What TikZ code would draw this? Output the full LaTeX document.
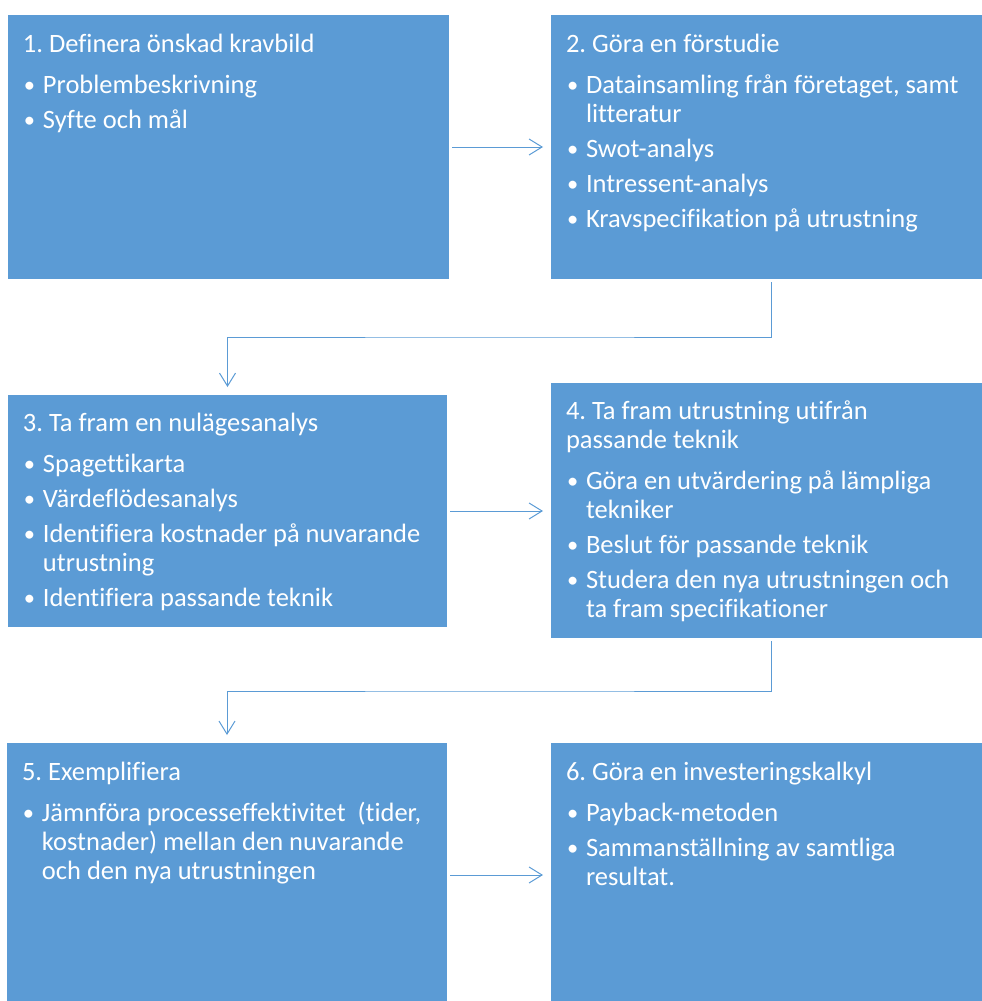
\documentclass[tikz,border=0pt]{standalone}
\usepackage{fontspec}
\setmainfont{Carlito}[Ligatures=NoCommon]
\usetikzlibrary{arrows.meta,calc}
\definecolor{boxblue}{HTML}{5B9BD5}
\tikzset{
 box/.style={fill=boxblue, draw=none, anchor=north west, inner sep=0pt, outer sep=0pt},
 txt/.style={anchor=north west, inner sep=0pt, outer sep=0pt, text=white, font=\fontsize{26.5}{29}\selectfont, align=left},
 conn/.style={draw=boxblue, line width=1pt, -{Straight Barb[length=13pt,width=16pt]}, shorten <=3pt, shorten >=8pt},
}
\newcommand{\bul}{\makebox[20pt][l]{\hspace{1pt}\raisebox{0.5pt}{\scalebox{0.85}{•}}}}
\newcommand{\ind}{\hspace*{20pt}}
\newcommand{\topstrut}{\rule{0pt}{24pt}}
\frenchspacing
\begin{document}
\begin{tikzpicture}[x=1pt,y=-1pt]
\useasboundingbox (0,0) rectangle (982,1001);
\clip (0,0) rectangle (982,1001);
\node[box, minimum width=441pt, minimum height=264pt] (b1) at (8,15) {};
\node[box, minimum width=440pt, minimum height=264pt] (b2) at (551,15) {};
\node[box, minimum width=439pt, minimum height=232pt] (b3) at (8,395) {};
\node[box, minimum width=440pt, minimum height=255pt] (b4) at (551,383) {};
\node[box, minimum width=440pt, minimum height=264pt] (b5) at (7,743) {};
\node[box, minimum width=440pt, minimum height=264pt] (b6) at (551,743) {};
\node[txt] (t1) at ($(b1.north west)+(15,13)$) {\topstrut 1. Definera önskad kravbild\\[12pt]
\bul Problembeskrivning\\[6pt]
\bul Syfte och mål};
\node[txt] (t2) at ($(b2.north west)+(15,13)$) {\topstrut 2. Göra en förstudie\\[12pt]
\bul Datainsamling från företaget, samt\\
\ind litteratur\\[6pt]
\bul Swot-analys\\[6pt]
\bul Intressent-analys\\[6pt]
\bul Kravspecifikation på utrustning};
\node[txt] (t3) at ($(b3.north west)+(15,12)$) {\topstrut 3. Ta fram en nulägesanalys\\[12pt]
\bul Spagettikarta\\[6pt]
\bul Värdeflödesanalys\\[6pt]
\bul Identifiera kostnader på nuvarande\\
\ind utrustning\\[6pt]
\bul Identifiera passande teknik};
\node[txt] (t4) at ($(b4.north west)+(15,12)$) {\topstrut 4. Ta fram utrustning utifrån\\
passande teknik\\[12pt]
\bul Göra en utvärdering på lämpliga\\
\ind tekniker\\[6pt]
\bul Beslut för passande teknik\\[6pt]
\bul Studera den nya utrustningen och\\
\ind ta fram specifikationer};
\node[txt] (t5) at ($(b5.north west)+(15,13)$) {\topstrut 5. Exemplifiera\\[12pt]
\bul Jämnföra processeffektivitet\ \ (tider,\\
\ind kostnader) mellan den nuvarande\\
\ind och den nya utrustningen};
\node[txt] (t6) at ($(b6.north west)+(15,13)$) {\topstrut 6. Göra en investeringskalkyl\\[12pt]
\bul Payback-metoden\\[6pt]
\bul Sammanställning av samtliga\\
\ind resultat.};
\draw[conn] (b1.east) -- (b1.east -| b2.west);
\coordinate (m23) at (500,337);
\draw[conn] (b2.south) |- (m23) -| (b3.north);
\draw[conn] (b3.east) -- (b3.east -| b4.west);
\coordinate (m45) at (500,691);
\draw[conn] (b4.south) |- (m45) -| (b5.north);
\draw[conn] (b5.east) -- (b5.east -| b6.west);
\end{tikzpicture}
\end{document}
